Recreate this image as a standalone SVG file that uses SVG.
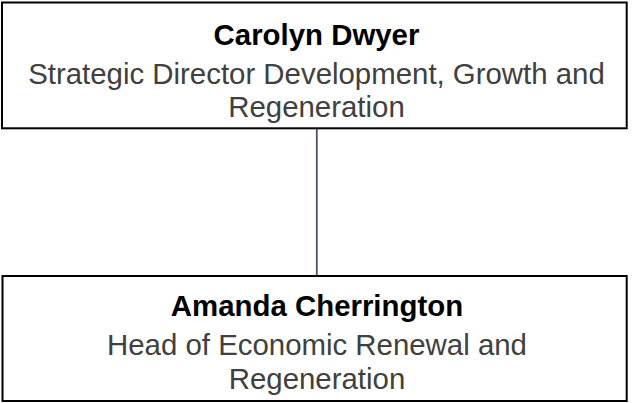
<svg xmlns="http://www.w3.org/2000/svg" width="632" height="403" viewBox="0 0 632 403">
<style>
.box{fill:#ffffff;stroke:#000000;stroke-width:2}
.name{font-family:"Liberation Sans",Arial,sans-serif;font-weight:bold;font-size:29.4px;fill:#000000;text-anchor:middle}
.role{font-family:"Liberation Sans",Arial,sans-serif;font-size:29.4px;fill:#404040;text-anchor:middle}
.conn{stroke:#4a5468;stroke-width:1.8;fill:none}
</style>
<rect width="632" height="403" fill="#ffffff"/>
<g id="connectors">
<line class="conn" x1="316.8" y1="129" x2="316.8" y2="276"/>
</g>
<g id="node-carolyn-dwyer">
<rect class="box" x="2" y="2.5" width="624.7" height="125.8"/>
<text class="name" x="316.5" y="45">Carolyn Dwyer</text>
<text class="role" x="316.5" y="83.5">Strategic Director Development, Growth and</text>
<text class="role" x="316.5" y="117.3">Regeneration</text>
</g>
<g id="node-amanda-cherrington">
<rect class="box" x="2.5" y="276" width="624.2" height="125"/>
<text class="name" x="317" y="316">Amanda Cherrington</text>
<text class="role" x="317" y="355">Head of Economic Renewal and</text>
<text class="role" x="317" y="389.3">Regeneration</text>
</g>
</svg>
